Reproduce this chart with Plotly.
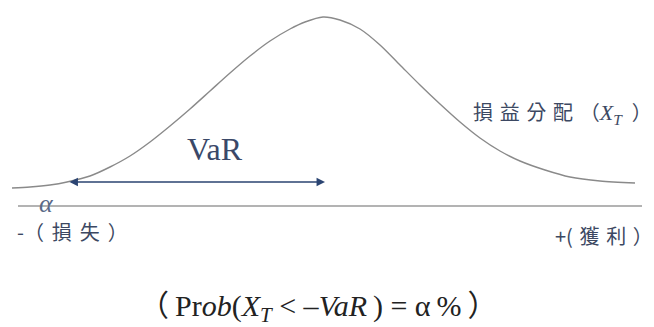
import plotly.graph_objects as go

# Profit/loss distribution curve (x position, height above baseline)
curve_x = [12, 30, 50, 67, 90, 110, 130, 150, 170, 190, 210, 230, 250, 270, 290, 305, 323,
           340, 360, 380, 400, 420, 440, 460, 480, 500, 520, 545, 570, 600, 635]
curve_h = [19, 20, 22, 25, 31, 40, 51, 65, 81, 98, 116, 134, 151, 166, 178, 185, 190,
           187, 178, 162, 142, 122, 103, 85, 69, 56, 46, 37, 30, 26, 24]

baseline_x = [18, 642]
baseline_h = [1, 1]

var_start = 68
var_end = 325
var_level = 25

sp = "\u2004"
sp2 = "\u2004\u200a"
label_dist = ("損" + sp + "益" + sp + "分" + sp + "配" + sp + "（"
              "<span style=\"font-family:Liberation Serif;font-size:22px\"><i>X</i><sub><i>T</i></sub></span>"
              + "\u2002" + "）")
label_var = "VaR"
label_alpha = "<i>α</i>"
label_loss = "-（" + sp2 + "損" + sp2 + "失" + sp2 + "）"
label_gain = "+(" + sp + "獲" + sp + "利" + sp + "）"
label_formula = ("（\u2009Pr<i>ob</i>(<i>X</i><sub><i>T</i></sub> &lt; –<i>VaR</i>\u2009) = α\u2009%\u2009）")

fig = go.Figure()
fig.add_trace(go.Scatter(x=curve_x, y=curve_h, mode="lines",
                         line=dict(color="#8a8a8a", width=1.4, shape="spline", smoothing=0.8),
                         hoverinfo="skip", showlegend=False))
fig.add_trace(go.Scatter(x=baseline_x, y=baseline_h, mode="lines",
                         line=dict(color="#9a9a9a", width=1.3),
                         hoverinfo="skip", showlegend=False))

fig.add_annotation(x=var_end, y=var_level, ax=var_start, ay=var_level,
                   xref="x", yref="y", axref="x", ayref="y", text="",
                   showarrow=True, arrowside="end+start", arrowhead=2,
                   arrowsize=1.3, arrowwidth=1.3, arrowcolor="#2b4472")

text_color = "#3c4862"
cjk = "Noto Sans CJK TC"
serif = "Liberation Serif"

fig.add_annotation(x=215, y=58, xref="x", yref="y", text=label_var, showarrow=False,
                   font=dict(family=serif, size=32, color="#3a4868"))
fig.add_annotation(x=471, y=95, xref="x", yref="y", xanchor="left", text=label_dist,
                   showarrow=False, font=dict(family=cjk + ", " + serif, size=20, color=text_color))
fig.add_annotation(x=46, y=4, xref="x", yref="y", text=label_alpha, showarrow=False,
                   font=dict(family=serif, size=26, color="#5a6a88"))
fig.add_annotation(x=15, y=-24, xref="x", yref="y", xanchor="left", text=label_loss,
                   showarrow=False, font=dict(family=cjk, size=20, color=text_color))
fig.add_annotation(x=553, y=-28, xref="x", yref="y", xanchor="left", text=label_gain,
                   showarrow=False, font=dict(family=cjk, size=20, color=text_color))
fig.add_annotation(x=318, y=-101, xref="x", yref="y", text=label_formula,
                   showarrow=False, font=dict(family=serif + ", " + cjk, size=30, color="#222222"))

fig.update_layout(width=654, height=327, margin=dict(l=0, r=0, t=0, b=0),
                  paper_bgcolor="white", plot_bgcolor="white")
fig.update_xaxes(range=[0, 654], visible=False, fixedrange=True)
fig.update_yaxes(range=[-120, 207], visible=False, fixedrange=True)

fig.write_html("out.html", config={"displayModeBar": False},
               post_script="document.body.style.margin='0';document.body.style.overflow='hidden';")
